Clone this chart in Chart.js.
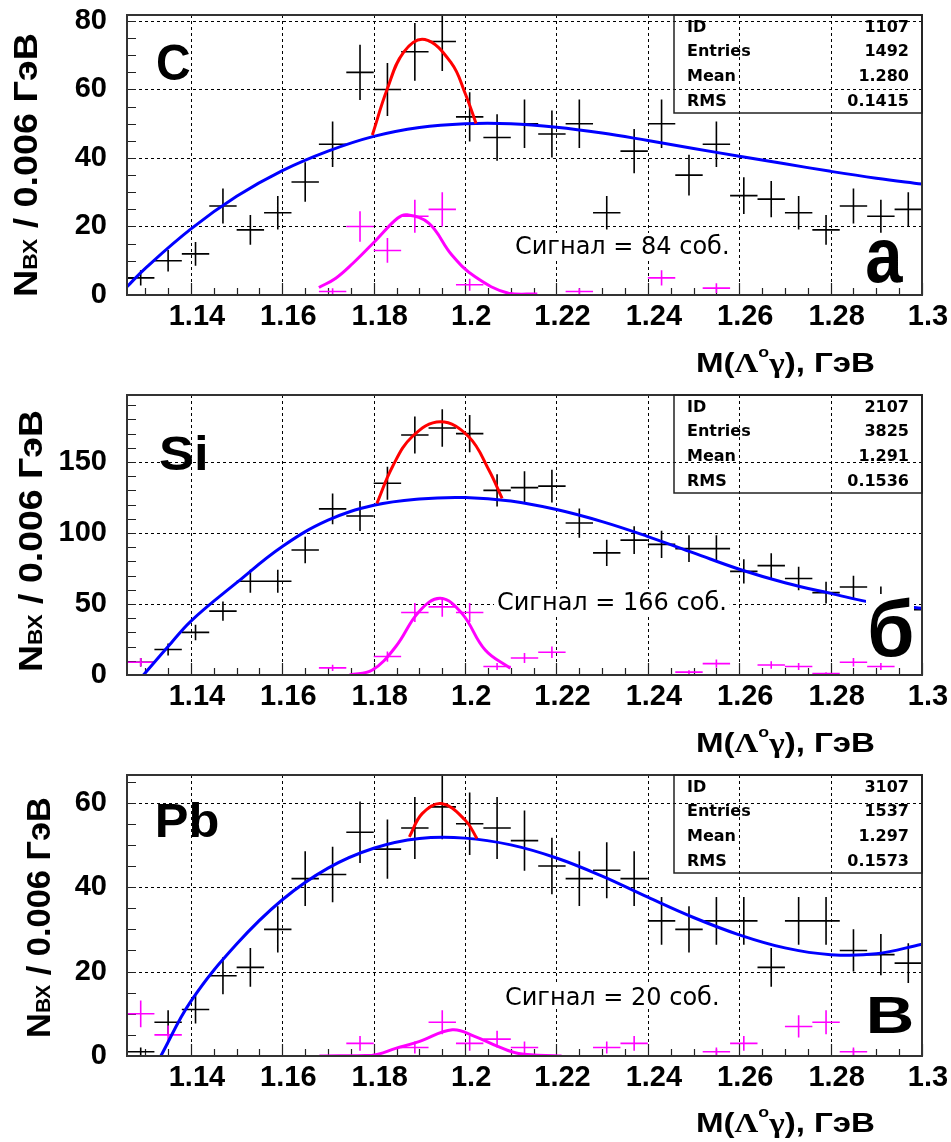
<!DOCTYPE html>
<html>
<head>
<meta charset="utf-8">
<script src="https://cdn.jsdelivr.net/npm/chart.js@4.4.1/dist/chart.umd.min.js"></script>
<style>
  body { margin: 0; background: #fff; width: 951px; height: 1142px; overflow: hidden; }
  canvas { position: absolute; left: 0; }
</style>
</head>
<body>
<canvas id="c1" width="951" height="380" style="top:0px"></canvas>
<canvas id="c2" width="951" height="380" style="top:380px"></canvas>
<canvas id="c3" width="951" height="382" style="top:760px"></canvas>
<script>
// bin centres, 0.006 GeV wide
var bins = [1.129, 1.135, 1.141, 1.147, 1.153, 1.159, 1.165, 1.171, 1.177, 1.183,
            1.189, 1.195, 1.201, 1.207, 1.213, 1.219, 1.225, 1.231, 1.237, 1.243,
            1.249, 1.255, 1.261, 1.267, 1.273, 1.279, 1.285, 1.291, 1.297];
var xTicks = [1.14, 1.16, 1.18, 1.2, 1.22, 1.24, 1.26, 1.28, 1.3];
var statNames = ['ID', 'Entries', 'Mean', 'RMS'];

// --- C ---
var cAll = [5, 10, 12, 26, 19, 24, 33, 44, 65, 60, 71, 74, 52, 46, 50, 47, 50, 24, 42, 50, 35, 44, 29, 28, 24, 19, 26, 23, 25];
var cSig = [null, null, null, null, null, null, null, 1, 20, 13, 23, 25, 3, null, null, null, 1, null, null, 5, null, 2, null, null, null, null, null, null, null];
var cBgX = [1.126, 1.13, 1.14, 1.15, 1.16, 1.17, 1.18, 1.19, 1.2, 1.21, 1.22, 1.23, 1.24, 1.25, 1.26, 1.27, 1.28, 1.29, 1.3];
var cBgY = [2.4, 7.8, 19.3, 28.8, 36.3, 42, 46.3, 48.9, 50, 50, 49, 47.3, 45.1, 42.8, 40.5, 38.3, 36.1, 34.1, 32.4];
var cPeakX = [1.1797, 1.1829, 1.1866, 1.1912, 1.197, 1.2, 1.2024];
var cPeakY = [46.7, 59.9, 71, 74.6, 67.7, 58.9, 50.1];
var cSigX = [1.168, 1.1717, 1.1754, 1.1805, 1.1852, 1.1873, 1.1921, 1.1971, 1.2022, 1.2095, 1.2158];
var cSigY = [2.2, 4.9, 9.2, 16, 22.4, 23.4, 20.9, 11.7, 5.3, 0.5, 0.3];
var cYTicks = [0, 20, 40, 60, 80];
var cStats = ['1107', '1492', '1.280', '0.1415'];

// --- Si ---
var siAll = [9, 18, 30, 45, 66, 66, 88, 117, 112, 135, 169, 174, 170, 130, 132, 133, 107, 86, 95, 92, 89, 89, 73, 77, 68, 58, 62, 55, 46];
var siSig = [9, null, null, null, null, null, null, 5, null, 13, 44, 48, 44, 6, 12, 16, null, null, null, null, 2, 8, null, 7, 6, 1, 9, 6, null];
var siBgX = [1.1296, 1.135, 1.14, 1.15, 1.16, 1.17, 1.18, 1.19, 1.2, 1.21, 1.22, 1.23, 1.24, 1.25, 1.26, 1.27, 1.28, 1.29, 1.3];
var siBgY = [0, 20, 38, 65, 90.5, 109, 119.5, 124, 125, 122.5, 116.5, 108, 97.5, 86, 74.5, 65, 57.5, 50.5, 47];
var siPeakX = [1.1807, 1.1841, 1.1884, 1.1946, 1.2008, 1.2052, 1.2081];
var siPeakY = [120.9, 146.7, 167.8, 178.4, 167.8, 144.4, 124.4];
var siSigX = [1.1747, 1.1797, 1.1848, 1.1899, 1.1946, 1.1993, 1.2044, 1.2099];
var siSigY = [0, 3.5, 19.9, 44.6, 54, 43.4, 17.6, 4.7];
var siYTicks = [0, 50, 100, 150];
var siStats = ['2107', '3825', '1.291', '0.1536'];

// --- Pb ---
var pbAll = [1, 8, 11, 19, 21, 30, 42, 43, 53, 49, 54, 59, 55, 54, 51, 45, 42, 44, 42, 32, 30, 32, 32, 21, 32, 32, 25, 24, 22];
var pbSig = [10, 5, null, null, null, null, null, null, 3, null, 2, 8, 3, 4, 2, null, null, 2, 3, null, null, 1, 3, null, 7, 8, 1, null, null];
var pbBgX = [1.1334, 1.14, 1.15, 1.16, 1.17, 1.18, 1.19, 1.2, 1.21, 1.22, 1.23, 1.24, 1.25, 1.26, 1.27, 1.28, 1.29, 1.3];
var pbBgY = [0, 13, 26.5, 37, 44.5, 49.2, 51.5, 51.6, 50, 46.9, 42.6, 37.6, 32.8, 28.7, 25.6, 24, 24.2, 26.5];
var pbPeakX = [1.1878, 1.1906, 1.1948, 1.2, 1.2026];
var pbPeakY = [51.9, 57.4, 59.8, 55.9, 51.5];
var pbSigX = [1.1681, 1.1797, 1.1848, 1.1899, 1.1972, 1.2022, 1.2073, 1.2117, 1.2211];
var pbSigY = [0, 0.2, 1.8, 3.4, 6.2, 4.6, 2.2, 0.6, 0];
var pbYTicks = [0, 20, 40, 60];
var pbStats = ['3107', '1537', '1.297', '0.1573'];

var SANS = '"Liberation Sans", Arial, sans-serif';
var SERIF = '"Liberation Serif", "Times New Roman", serif';

var panels = [
  { id: 'c1', axisH: 85, yMax: 81.75, yTicks: cYTicks, yMinor: 5,
    all: cAll, sig: cSig, bgX: cBgX, bgY: cBgY, pkX: cPeakX, pkY: cPeakY, sgX: cSigX, sgY: cSigY,
    stats: cStats, name: 'C', nameBox: [157, 45, 190, 80], letter: 'а', letterBox: [867, 240, 903, 283],
    signal: 'Сигнал = 84 соб.', sigPos: [515, 254], yTitle: { x: 37, top: 33, bottom: 297 } },
  { id: 'c2', axisH: 85, yMax: 197.2, yTicks: siYTicks, yMinor: 10,
    all: siAll, sig: siSig, bgX: siBgX, bgY: siBgY, pkX: siPeakX, pkY: siPeakY, sgX: siSigX, sgY: siSigY,
    stats: siStats, name: 'Si', nameBox: [160, 55, 205, 90], letter: 'б', letterBox: [870, 217, 912, 277],
    signal: 'Сигнал = 166 соб.', sigPos: [497, 230], yTitle: { x: 42, top: 30, bottom: 292 } },
  { id: 'c3', axisH: 86, yMax: 66.55, yTicks: pbYTicks, yMinor: 5,
    all: pbAll, sig: pbSig, bgX: pbBgX, bgY: pbBgY, pkX: pbPeakX, pkY: pbPeakY, sgX: pbSigX, sgY: pbSigY,
    stats: pbStats, name: 'Pb', nameBox: [158, 42, 218, 77], letter: 'В', letterBox: [870, 237, 912, 273],
    signal: 'Сигнал = 20 соб.', sigPos: [505, 244.5], yTitle: { x: 50, top: 37, bottom: 278 } }
];

function toPoints(vals) {
  var out = [];
  vals.forEach(function (v, i) { if (v !== null) out.push({ x: bins[i], y: v }); });
  return out;
}
function toCurve(xs, ys) {
  return xs.map(function (x, i) { return { x: x, y: ys[i] }; });
}

// draws text squeezed into the box [left, top, right, bottom]
function fitText(c, text, font, box) {
  c.save();
  c.font = font;
  c.textAlign = 'left';
  c.textBaseline = 'alphabetic';
  var m = c.measureText(text);
  var w = m.actualBoundingBoxLeft + m.actualBoundingBoxRight;
  var h = m.actualBoundingBoxAscent + m.actualBoundingBoxDescent;
  c.translate(box[0], box[1]);
  c.scale((box[2] - box[0]) / w, (box[3] - box[1]) / h);
  c.fillText(text, m.actualBoundingBoxLeft, m.actualBoundingBoxAscent);
  c.restore();
}
function runsWidth(c, runs) {
  var w = 0;
  runs.forEach(function (r) { c.font = r.f; w += c.measureText(r.t).width; });
  return w;
}
function drawRuns(c, runs) {
  var x = 0;
  runs.forEach(function (r) {
    c.font = r.f;
    c.fillText(r.t, x, r.dy || 0);
    x += c.measureText(r.t).width;
  });
}

function makeDeco(p) {
  return {
    id: 'deco',
    beforeDatasetsDraw: function (chart) {
      var c = chart.ctx, a = chart.chartArea, xs = chart.scales.x, ys = chart.scales.y;
      c.save();
      // dashed grid
      c.strokeStyle = '#000';
      c.lineWidth = 1;
      c.setLineDash([3, 3]);
      c.beginPath();
      xTicks.forEach(function (v) {
        if (v < 1.299) {
          var px = Math.round(xs.getPixelForValue(v)) + 0.5;
          c.moveTo(px, a.top); c.lineTo(px, a.bottom);
        }
      });
      p.yTicks.forEach(function (v) {
        if (v > 0) {
          var py = Math.round(ys.getPixelForValue(v)) + 0.5;
          c.moveTo(a.left, py); c.lineTo(a.right, py);
        }
      });
      c.stroke();
      c.setLineDash([]);

      // ticks inside the frame
      c.strokeStyle = '#222';
      c.lineWidth = 1.2;
      c.beginPath();
      for (var k = 0; k <= 34; k++) {
        var tx = Math.round(xs.getPixelForValue(1.13 + k * 0.005)) + 0.5;
        var major = k % 4 === 2;
        c.moveTo(tx, a.bottom); c.lineTo(tx, a.bottom - (major ? 12 : 7));
      }
      for (var v = p.yMinor; v < p.yMax; v += p.yMinor) {
        var ty = Math.round(ys.getPixelForValue(v)) + 0.5;
        c.moveTo(a.left, ty); c.lineTo(a.left + 9, ty);
      }
      c.stroke();

      // crosses: bin width horizontally, sqrt(N) vertically
      c.beginPath();
      c.rect(a.left, a.top, a.right - a.left, a.bottom - a.top);
      c.clip();
      [0, 1].forEach(function (di) {
        var ds = chart.data.datasets[di];
        c.strokeStyle = ds.errColor;
        c.lineWidth = 1.6;
        c.beginPath();
        ds.data.forEach(function (pt) {
          var e = Math.sqrt(pt.y);
          var xc = xs.getPixelForValue(pt.x), yc = ys.getPixelForValue(pt.y);
          c.moveTo(xs.getPixelForValue(pt.x - 0.003), yc);
          c.lineTo(xs.getPixelForValue(pt.x + 0.003), yc);
          c.moveTo(xc, ys.getPixelForValue(pt.y - e));
          c.lineTo(xc, ys.getPixelForValue(pt.y + e));
        });
        c.stroke();
      });
      c.restore();
    },
    afterDraw: function (chart) {
      var c = chart.ctx, a = chart.chartArea;
      c.save();
      // frame
      c.strokeStyle = '#333';
      c.lineWidth = 2;
      c.strokeRect(a.left, a.top, a.right - a.left, a.bottom - a.top);

      // stats box
      c.lineWidth = 1.5;
      c.strokeStyle = '#222';
      c.strokeRect(674, a.top, a.right - 674, 98);
      c.fillStyle = '#000';
      c.font = 'bold 16px "DejaVu Sans", sans-serif';
      c.textBaseline = 'middle';
      statNames.forEach(function (n, i) {
        var ry = a.top + 12.5 + i * 24.7;
        c.textAlign = 'left';
        c.fillText(n, 687, ry);
        c.textAlign = 'right';
        c.fillText(p.stats[i], 909, ry);
      });

      // signal text on white
      c.font = '24px "DejaVu Sans", sans-serif';
      c.textAlign = 'left';
      c.textBaseline = 'alphabetic';
      var sw = c.measureText(p.signal).width;
      c.fillStyle = '#fff';
      c.fillRect(p.sigPos[0] - 3, p.sigPos[1] - 21, sw + 6, 25);
      c.fillStyle = '#000';
      c.fillText(p.signal, p.sigPos[0], p.sigPos[1]);

      // nucleus name and panel letter
      fitText(c, p.name, 'bold 48px ' + SANS, p.nameBox);
      var lb = p.letterBox;
      c.fillStyle = '#fff';
      c.fillRect(lb[0] - 4, lb[1] - 3, lb[2] - lb[0] + 6, lb[3] - lb[1] + 6);
      c.fillStyle = '#000';
      fitText(c, p.letter, 'bold 80px ' + SANS, lb);

      // x title
      var xr = [
        { t: 'M(', f: 'bold 28px ' + SANS },
        { t: 'Λ', f: 'bold 28px ' + SERIF },
        { t: 'o', f: 'bold 15px ' + SANS, dy: -15 },
        { t: 'γ', f: 'bold 28px ' + SERIF },
        { t: '), ГэВ', f: 'bold 28px ' + SANS }
      ];
      var xw = runsWidth(c, xr);
      c.save();
      c.translate(696, 371.5);
      c.scale(179 / xw, 1);
      drawRuns(c, xr);
      c.restore();

      // y title
      var yr = [
        { t: 'N', f: 'bold 33px ' + SANS },
        { t: 'ВХ', f: 'bold 20px ' + SANS },
        { t: ' / 0.006 ГэВ', f: 'bold 33px ' + SANS }
      ];
      var yw = runsWidth(c, yr);
      var yt = p.yTitle;
      c.save();
      c.translate(yt.x, (yt.top + yt.bottom) / 2);
      c.rotate(-Math.PI / 2);
      c.scale((yt.bottom - yt.top) / yw, 1);
      c.translate(-yw / 2, 0);
      drawRuns(c, yr);
      c.restore();

      c.restore();
    }
  };
}

function buildChart(p) {
  var canvas = document.getElementById(p.id);
  var tickFont = { family: SANS, size: 29, weight: 'bold' };
  var curve = { type: 'line', showLine: true, pointRadius: 0, borderWidth: 3, tension: 0.4, clip: 0 };
  return new Chart(canvas.getContext('2d'), {
    type: 'scatter',
    data: {
      datasets: [
        { label: 'all', data: toPoints(p.all), pointRadius: 0, showLine: false, errColor: '#000' },
        { label: 'signal', data: toPoints(p.sig), pointRadius: 0, showLine: false, errColor: '#ff00ff' },
        Object.assign({ label: 'peak fit', data: toCurve(p.pkX, p.pkY), borderColor: '#ff0000' }, curve),
        Object.assign({ label: 'signal fit', data: toCurve(p.sgX, p.sgY), borderColor: '#ff00ff' }, curve),
        Object.assign({ label: 'background', data: toCurve(p.bgX, p.bgY), borderColor: '#0000ff' }, curve)
      ]
    },
    options: {
      responsive: false,
      animation: false,
      events: [],
      layout: { padding: { top: 15, right: 29, left: 0, bottom: 0 } },
      plugins: { legend: { display: false }, tooltip: { enabled: false } },
      scales: {
        x: {
          type: 'linear', min: 1.126, max: 1.3,
          grid: { display: false, drawTicks: false }, border: { display: false },
          afterBuildTicks: function (s) { s.ticks = xTicks.map(function (v) { return { value: v }; }); },
          afterFit: function (s) { s.height = p.axisH; s.paddingLeft = 0; s.paddingRight = 0; },
          ticks: { autoSkip: false, maxRotation: 0, padding: 5, labelOffset: 6, color: '#000', font: tickFont,
                   callback: function (v) { return String(Number(v.toFixed(2))); } }
        },
        y: {
          type: 'linear', min: 0, max: p.yMax,
          grid: { display: false, drawTicks: false }, border: { display: false },
          afterBuildTicks: function (s) { s.ticks = p.yTicks.map(function (v) { return { value: v }; }); },
          afterFit: function (s) { s.width = 127; s.paddingTop = 0; s.paddingBottom = 0; },
          ticks: { autoSkip: false, padding: 20, color: '#000', font: tickFont }
        }
      }
    },
    plugins: [makeDeco(p)]
  });
}

panels.forEach(buildChart);
</script>
</body>
</html>
